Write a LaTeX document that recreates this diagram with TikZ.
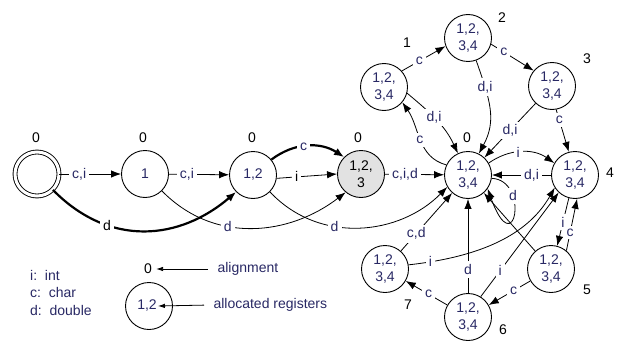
\documentclass[tikz,border=0pt]{standalone}
\usepackage{fontspec}
\setmainfont{Liberation Sans}
\usetikzlibrary{arrows.meta}
\definecolor{ink}{RGB}{40,40,100}
\definecolor{shade}{RGB}{226,226,226}

\begin{document}
\begin{tikzpicture}[x=1pt,y=1pt,
  font=\fontsize{14}{17}\selectfont,
  st/.style={circle,draw,line width=0.9pt,minimum size=47pt,inner sep=0pt,
             text=ink,align=center},
  num/.style={text=black,inner sep=1pt},
  lab/.style={fill=white,text=ink,inner sep=3pt},
  blab/.style={fill=white,text=black,inner sep=3pt},
  edge/.style={line width=0.8pt,-{Latex[length=10pt,width=7.5pt]}},
  heavy/.style={line width=2.2pt,-{Latex[length=10pt,width=8pt]}},
  keyarrow/.style={line width=0.8pt,-{Latex[length=7pt,width=4.5pt]}},
]
\path[use as bounding box] (0,0) rectangle (628,-345);

% ---- chain of states along the top row
\node[st,minimum size=44pt,double,double distance=3pt] (S) at (37,-174) {};
\node[st] (N1)  at (145,-174) {1};
\node[st] (N12) at (253,-175) {1,2};
\node[st,fill=shade,text=black] (G) at (361,-174) {1,2,\\3};
\node[st] (C0)  at (468,-175) {1,2,\\3,4};

% ---- the ring of states around the centre
\node[st] (n1) at (384,-87)  {1,2,\\3,4};
\node[st] (n2) at (468,-38)  {1,2,\\3,4};
\node[st] (n3) at (552,-86)  {1,2,\\3,4};
\node[st] (n4) at (575,-175) {1,2,\\3,4};
\node[st] (n5) at (551,-269) {1,2,\\3,4};
\node[st] (n6) at (468,-317) {1,2,\\3,4};
\node[st] (n7) at (385,-269) {1,2,\\3,4};

% ---- alignment / index numbers
\node[num] (aS)  at (36,-138)  {0};
\node[num] (a1)  at (143,-138) {0};
\node[num] (a12) at (252,-138) {0};
\node[num] (aG)  at (358,-138) {0};
\node[num] (aC)  at (467,-138) {0};
\node[num] (i1) at (407,-43)  {1};
\node[num] (i2) at (502,-18)  {2};
\node[num] (i3) at (587,-59)  {3};
\node[num] (i4) at (610,-173) {4};
\node[num] (i5) at (587,-290) {5};
\node[num] (i6) at (503,-330) {6};
\node[num] (i7) at (408,-305) {7};

% ---- transitions of the top row
\draw[edge] (S) -- node[lab,pos=0.32]{c,i} (N1);
\draw[edge] (N1) -- node[lab,pos=0.3]{c,i} (N12);
\draw[heavy] (S.-45) .. controls (110,-248) and (180,-240) .. (N12.-135)
  node[blab,pos=0.3]{d};
\draw[edge] (N1.-45) .. controls (215,-245) and (290,-235) .. (G.-130)
  node[lab,pos=0.37]{d};
\draw[edge] (N12.-45) .. controls (320,-245) and (400,-235) .. (C0.-150)
  node[lab,pos=0.37]{d};
\draw[heavy] (N12.40) to[bend left=35] node[lab,pos=0.45]{c} (G.135);
\draw[edge] (N12.-8) -- node[blab,pos=0.33]{i} (G.180);
\draw[edge] (G) -- node[lab,pos=0.34]{c,i,d} (C0);

% ---- upper part of the ring
\draw[edge] (n1.42) -- node[lab,pos=0.4]{c} (n2.200);
\draw[edge] (n2.-15) -- node[lab,pos=0.3]{c} (n3.140);
\draw[edge] (n3) -- node[lab]{d,i} (C0);
\draw[edge] (n3.-80) -- node[lab,pos=0.25]{c} (n4.105);
\draw[edge] (n1.-15) to[out=-40,in=115] node[lab,pos=0.45]{d,i} (C0.115);
\draw[edge] (C0.155) to[out=165,in=-55] node[lab,pos=0.5]{c} (n1.-40);
\draw[edge] (n2.-70) .. controls (490,-100) and (497,-120) .. (C0.63)
  node[lab,pos=0.25]{d,i};

% ---- right and lower part of the ring
\draw[edge] (C0.30) to[bend left=35] node[lab,pos=0.45]{i} (n4.150);
\draw[edge] (n4) -- node[lab,pos=0.33]{d,i} (C0);
\draw[edge] (C0.-8) .. controls (530,-180) and (515,-265) .. (C0.-35)
  node[lab,pos=0.3]{d};
\draw[edge] (n4.-105) -- node[lab,pos=0.5]{i} (n5.75);
\draw[edge] (n5.50) -- node[lab,pos=0.35]{c} (n4.-85);
\draw[edge] (n5) -- (C0);
\draw[edge] (n6) -- node[lab,pos=0.25]{d} (C0);
\draw[edge] (n6.58) -- node[lab,pos=0.25]{i} (n4.-133);
\draw[edge] (n7.10) .. controls (470,-258) and (525,-240) .. (n4.-148)
  node[lab,pos=0.12]{i};
\draw[edge] (n7) -- node[lab,pos=0.3]{c,d} (C0);
\draw[edge] (n6) -- node[lab,pos=0.45]{c} (n7);
\draw[edge] (n5) -- node[lab,pos=0.4]{c} (n6);

% ---- key
\node[anchor=north west,text=ink,align=left,inner sep=0pt,
      font=\fontsize{14}{17.5}\selectfont] (key) at (30,-270)
  {i:\ \ int\\c:\ \ char\\d:\ \ double};
\node[st] (Lc) at (149,-306) {};
\node[text=ink,inner sep=1pt] (Lt) at (147,-306) {1,2};
\node[num] (Lz) at (148,-269) {0};
\node[anchor=west,text=ink] (La) at (214,-269) {alignment};
\node[anchor=west,text=ink] (Lr) at (210,-305) {allocated registers};
\draw[keyarrow,shorten <=6pt,shorten >=3pt] (La.west) -- (Lz.east);
\draw[keyarrow,shorten <=6pt] (Lr.west) -- (Lt.east);
\end{tikzpicture}
\end{document}
